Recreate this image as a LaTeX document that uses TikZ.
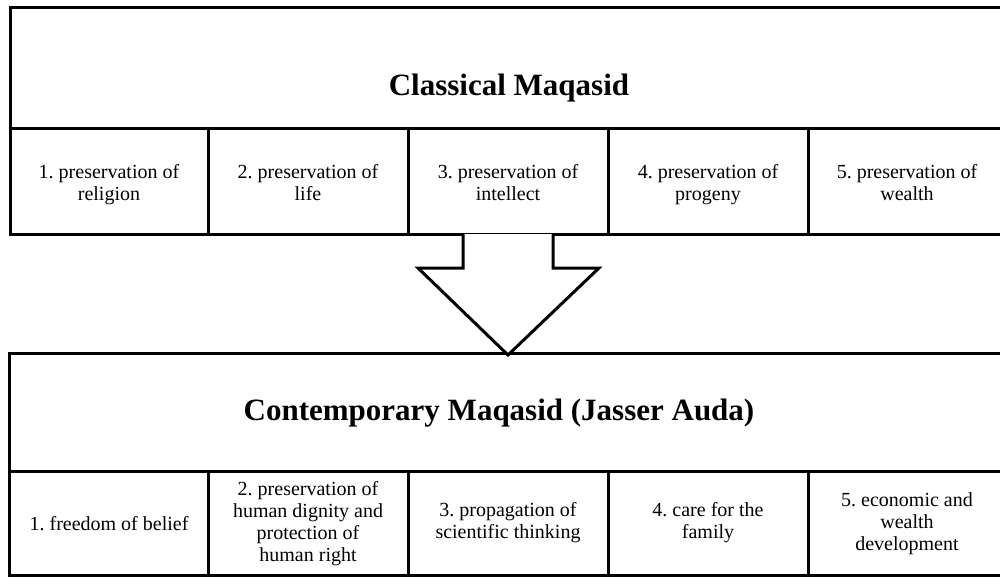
\documentclass[tikz,border=0pt]{standalone}
\IfFileExists{pplr8t.tfm}{%
  \usepackage[T1]{fontenc}\renewcommand{\rmdefault}{ppl}}{%
  \usepackage{fontspec}\setmainfont{Liberation Serif}}
\frenchspacing
\begin{document}
\begin{tikzpicture}[x=0.5pt,y=-0.5pt,
  frame/.style={draw=black,line width=1.5pt,line join=miter},
  cell/.style={align=center,inner sep=0pt,font=\fontsize{10}{11}\selectfont,
    execute at begin node=\strut, execute at end node=\strut},
  title/.style={inner sep=0pt,font=\fontsize{15.5}{18}\selectfont\bfseries}]
\useasboundingbox (0,0) rectangle (1000,578);
\clip (0,0) rectangle (1000,578);
% top block
\draw[frame] (10,7) rectangle (1015,234);
\draw[frame] (10,128) -- (1015,128);
\foreach \x in {208,408,608,808} \draw[frame] (\x,128) -- (\x,234);
% bottom block
\draw[frame] (9,353) rectangle (1015,575);
\draw[frame] (9,471) -- (1015,471);
\foreach \x in {208,408,608,808} \draw[frame] (\x,471) -- (\x,575);
% arrow
\draw[frame,fill=white] (463,234) -- (463,268) -- (418,268) -- (508,355) -- (599,268) -- (553,268) -- (553,234);
% titles
\node[title] (t1) at (509,88) {Classical Maqasid};
\node[title] (t2) at (499,413) {Contemporary Maqasid (Jasser Auda)};
% top cells
\node[cell] (c1) at (109,186) {1. preservation of\\religion};
\node[cell] (c2) at (308,186) {2. preservation of\\life};
\node[cell] (c3) at (508,186) {3. preservation of\\intellect};
\node[cell] (c4) at (708,186) {4. preservation of\\progeny};
\node[cell] (c5) at (907,186) {5. preservation of\\wealth};
% bottom cells
\node[cell] (d1) at (109,526) {1. freedom of belief};
\node[cell] (d2) at (308,525) {2. preservation of\\human dignity and\\protection of\\human right};
\node[cell] (d3) at (508,524) {3. propagation of\\scientific thinking};
\node[cell] (d4) at (708,524) {4. care for the\\family};
\node[cell] (d5) at (907,525) {5. economic and\\wealth\\development};
\end{tikzpicture}
\end{document}
